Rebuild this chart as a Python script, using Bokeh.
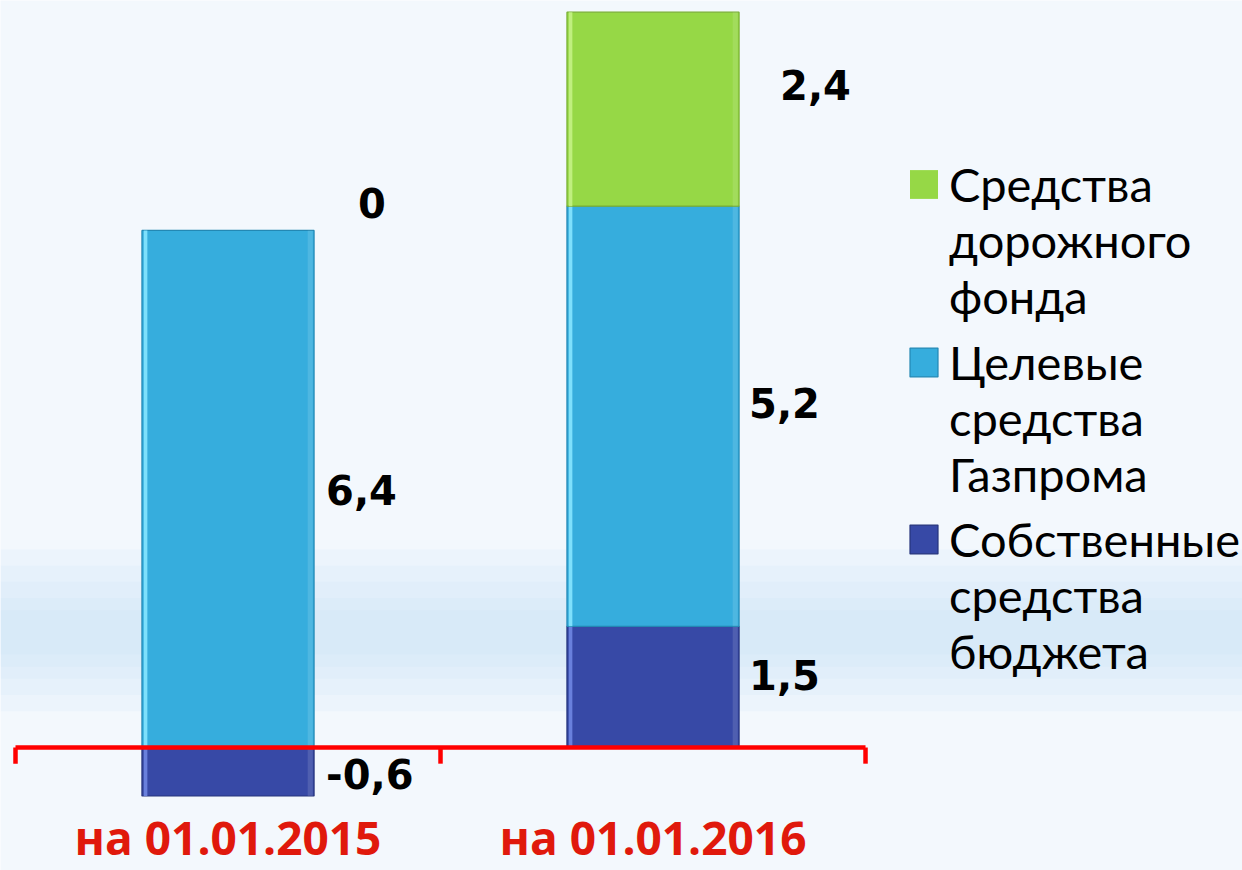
from bokeh.plotting import figure
from bokeh.models import Range1d, Legend, LegendItem, BoxAnnotation, ColumnDataSource
from bokeh.core.properties import value
from bokeh.embed import file_html
from bokeh.resources import INLINE

# ---- data ----
categories = ["на 01.01.2015", "на 01.01.2016"]
series_names = [["Собственные", "средства", "бюджета"],
                ["Целевые", "средства", "Газпрома"],
                ["Средства", "дорожного", "фонда"]]
own_budget = [-0.6, 1.5]
gazprom = [6.4, 5.2]
road_fund = [0.0, 2.4]

series_values = [own_budget, gazprom, road_fund]
series_colors = ["#3749A6", "#36ADDD", "#96D846"]
series_lines = ["#26347C", "#2388B4", "#78AE33"]
series_hilite = ["#6F86E2", "#86E6FF", "#C4F285"]

# label pixel nudges (style only)
lab_dx = [[12, 10], [12, 10], [44, 41]]
lab_dy = [[2, -12], [1, -13], [-27, -24]]
# legend block positions (px from bottom-left of frame)
legend_loc = [(906, 191), (906, 368), (906, 546)]

W, H = 1242, 870
BAR_W = 0.405

p = figure(width=W, height=H, output_backend="svg", toolbar_location=None,
           x_range=Range1d(-0.5353, 2.387), y_range=Range1d(-1.522, 9.245),
           min_border=0, min_border_left=0, min_border_right=0,
           min_border_top=0, min_border_bottom=0)
p.axis.visible = False
p.grid.visible = False
p.outline_line_color = None
p.background_fill_color = "#F3F8FD"
p.border_fill_color = "#F3F8FD"

# soft light-blue band in background
for bot, top, a in [(0.45, 2.45, 0.12), (0.65, 2.25, 0.12), (0.85, 2.05, 0.12),
                    (1.0, 1.85, 0.12), (1.15, 1.7, 0.12)]:
    p.add_layout(BoxAnnotation(bottom=bot, top=top, fill_color="#BFDBF3",
                               fill_alpha=a, line_color=None, level="underlay"))

xs = list(range(len(categories)))
pos_base = [0.0] * len(categories)
neg_base = [0.0] * len(categories)
renderers = []
lab_x, lab_y, lab_t, lab_xo, lab_yo = [], [], [], [], []
for s, vals in enumerate(series_values):
    bottoms, tops, la = [], [], []
    for i, v in enumerate(vals):
        if v >= 0:
            b = pos_base[i]
            t = b + v
            pos_base[i] = t
        else:
            t = neg_base[i]
            b = t + v
            neg_base[i] = b
        bottoms.append(b)
        tops.append(t)
        la.append(0.0 if v == 0 else 1.0)
        lab_x.append(i + BAR_W / 2)
        lab_y.append((b + t) / 2)
        lab_t.append(("%g" % v).replace(".", ","))
        lab_xo.append(lab_dx[s][i])
        lab_yo.append(lab_dy[s][i])
    src = ColumnDataSource(dict(x=xs, bottom=bottoms, top=tops, la=la))
    r = p.vbar(x="x", bottom="bottom", top="top", width=BAR_W, source=src,
               fill_color=series_colors[s], line_color=series_lines[s],
               line_alpha="la", line_width=1.2)
    renderers.append(r)
    hs = ColumnDataSource(dict(x=[i - BAR_W / 2 + 0.0085 for i in xs], bottom=bottoms, top=tops))
    p.vbar(x="x", bottom="bottom", top="top", width=0.0085, source=hs,
           fill_color=series_hilite[s], line_color=None, fill_alpha=0.9)
    ds = ColumnDataSource(dict(x=[i + BAR_W / 2 - 0.009 for i in xs], bottom=bottoms, top=tops))
    p.vbar(x="x", bottom="bottom", top="top", width=0.012, source=ds,
           fill_color="#FFFFFF", line_color=None, fill_alpha=0.12)

# red category axis line with tick marks
edges = [i - 0.5 for i in range(len(categories) + 1)]
p.segment(x0=[edges[0]], y0=[0], x1=[edges[-1]], y1=[0], line_color="#FF0000", line_width=4.5)
p.segment(x0=edges, y0=[0] * len(edges), x1=edges, y1=[-0.2] * len(edges),
          line_color="#FF0000", line_width=4.5)

# value labels
p.text(x=lab_x, y=lab_y, text=lab_t, x_offset=lab_xo, y_offset=lab_yo,
       text_font=value("DejaVu Sans"), text_font_style="bold", text_font_size="40px",
       text_color="#000000", text_align="left", text_baseline="middle")

# category labels
p.text(x=xs, y=[-1.275] * len(xs), text=categories, y_offset=-14,
       text_font=value("Open Sans"), text_font_style="bold", text_font_size="46px",
       text_color="#E0190C", text_align="center", text_baseline="middle")

# legend: one block per series, one row per line of its name
dummy = p.vbar(x=[], top=[], width=0.1, fill_alpha=0, line_alpha=0)
for s in range(3):
    lines = series_names[s]
    items = [LegendItem(label=lines[0], renderers=[renderers[s]])]
    items += [LegendItem(label=ln, renderers=[dummy]) for ln in lines[1:]]
    lg = Legend(items=items, location=legend_loc[s], padding=0, margin=0,
                spacing=0, glyph_width=35, glyph_height=36, label_standoff=8,
                label_height=55, label_text_font="Lato", label_text_font_size="47px",
                label_text_line_height=1.0, label_text_color="#000000",
                border_line_color=None, background_fill_alpha=0)
    p.add_layout(lg)

open("out.html", "w").write(file_html(p, INLINE))
